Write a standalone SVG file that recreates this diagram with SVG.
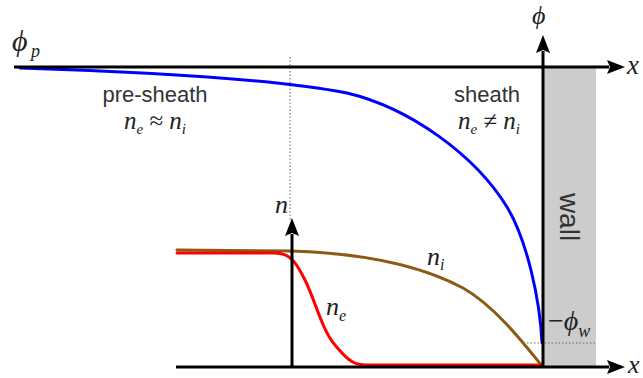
<svg xmlns="http://www.w3.org/2000/svg" width="643" height="378" viewBox="0 0 643 378">
<style>
.ax{stroke:#000;stroke-width:3;fill:none}
.dot{stroke:#666;stroke-width:1;stroke-dasharray:1.5 2;fill:none}
.cv{stroke-width:3;fill:none;stroke-linecap:round}
.sans{font-family:"Liberation Sans",Arial,sans-serif;font-size:22px;fill:#333}
.m{font-family:"Liberation Serif","Times New Roman",serif;font-style:italic;fill:#222}
</style>
<defs>
<marker id="arr" markerUnits="userSpaceOnUse" markerWidth="18" markerHeight="14" viewBox="0 0 18 14" refX="2" refY="7" orient="auto">
<path d="M0,0 L18,7 L0,14 L3,7 Z" fill="#000"/>
</marker>
</defs>
<g id="wall">
<rect x="543" y="67" width="53" height="300" fill="#cccccc"/>
<text class="sans" style="font-size:28px" text-anchor="middle" transform="translate(560,217) rotate(90)">wall</text>
</g>
<g id="guides">
<line class="dot" x1="290" y1="57" x2="290" y2="220"/>
<line class="dot" x1="527" y1="343" x2="596" y2="343"/>
</g>
<g id="curves">
<path class="cv" stroke="#0000ff" d="M20,68 C150,72 280,80 347,93 C410,108 475,155 507,207 C527,240 540,300 542,343"/>
<path class="cv" stroke="#8b5a14" d="M177,250 L290,251 C360,253 420,265 463,288 C495,306 525,345 542,366"/>
<path class="cv" stroke="#ff0000" d="M177,253 L275,253 C290,253 296,262 305,280 C315,300 322,330 335,345 C345,357 352,365 365,365 L542,365"/>
</g>
<g id="axes">
<line class="ax" x1="14" y1="67" x2="609" y2="67" marker-end="url(#arr)"/>
<line class="ax" x1="543" y1="367" x2="543" y2="51" marker-end="url(#arr)"/>
<line class="ax" x1="176" y1="367" x2="609" y2="367" marker-end="url(#arr)"/>
<line class="ax" x1="292" y1="367" x2="292" y2="234" marker-end="url(#arr)"/>
</g>
<g id="labels">
<text class="m" x="12" y="51" font-size="30">ϕ</text>
<text class="m" x="31" y="57" font-size="18">p</text>
<text class="m" x="532" y="24" font-size="26">ϕ</text>
<text class="m" x="627" y="74" font-size="27">x</text>
<text class="m" x="628" y="373" font-size="26">x</text>
<text class="m" x="275" y="213" font-size="26">n</text>
<text class="m" x="427" y="265" font-size="26">n<tspan font-size="16" dy="5">i</tspan></text>
<text class="m" x="326" y="315" font-size="26">n<tspan font-size="16" dy="6">e</tspan></text>
<text class="m" x="548" y="330" font-size="28"><tspan font-style="normal">−</tspan>ϕ<tspan font-size="18" dy="7">w</tspan></text>
<text class="sans" x="155" y="102" text-anchor="middle">pre-sheath</text>
<text class="m" x="155" y="129" font-size="25" text-anchor="middle">n<tspan font-size="15" dy="5">e</tspan><tspan font-style="normal" dy="-5"> ≈ </tspan>n<tspan font-size="15" dy="5">i</tspan></text>
<text class="sans" x="487" y="102" text-anchor="middle">sheath</text>
<text class="m" x="489" y="129" font-size="25" text-anchor="middle">n<tspan font-size="15" dy="5">e</tspan><tspan font-style="normal" dy="-5"> ≠ </tspan>n<tspan font-size="15" dy="5">i</tspan></text>
</g>
</svg>
